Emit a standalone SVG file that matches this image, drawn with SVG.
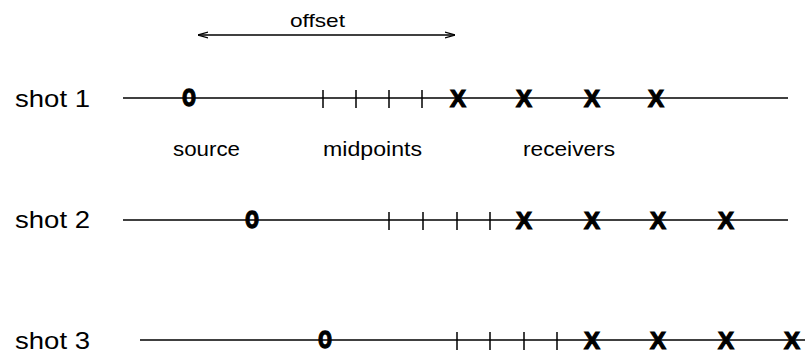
<svg xmlns="http://www.w3.org/2000/svg" width="807" height="357" viewBox="0 0 807 357">
<defs>
<style>
.t{font-family:"Liberation Sans",Arial,sans-serif;fill:#000}
.shot{font-size:24px}
.lab{font-size:20px}
.sym{font-family:"Liberation Sans",Arial,sans-serif;font-weight:bold;font-size:24px;text-anchor:middle;fill:#000;stroke:#000;stroke-width:1.2}
.o{font-size:32px;stroke-width:1.3}
.ln{stroke:#000;stroke-width:1.4;fill:none}
.tk{stroke:#000;stroke-width:1.5}
</style>
<marker id="ah" viewBox="0 0 10 8" refX="10" refY="4" markerWidth="10" markerHeight="8" markerUnits="userSpaceOnUse" orient="auto-start-reverse">
<path d="M0,1 L10,4 L0,7" fill="none" stroke="#000" stroke-width="1.2"/>
</marker>
</defs>
<rect width="807" height="357" fill="#fff"/>
<g id="offset">
<text class="t" x="290" y="27" font-size="19" textLength="55" lengthAdjust="spacingAndGlyphs">offset</text>
</g>
<g id="labels">
<text class="t lab" x="173" y="156" textLength="67" lengthAdjust="spacingAndGlyphs">source</text>
<text class="t lab" x="323" y="156" textLength="99" lengthAdjust="spacingAndGlyphs">midpoints</text>
<text class="t lab" x="523" y="156" textLength="92" lengthAdjust="spacingAndGlyphs">receivers</text>
</g>
<g id="connectors">
<line class="ln" x1="198" y1="35" x2="455" y2="35" marker-start="url(#ah)" marker-end="url(#ah)"/>
<line class="ln" x1="123" y1="98" x2="788" y2="98"/>
<line class="ln" x1="123" y1="220" x2="788" y2="220"/>
<line class="ln" x1="140" y1="340" x2="805" y2="340"/>
</g>
<g id="shot1">
<text class="t shot" x="15" y="107" textLength="75" lengthAdjust="spacingAndGlyphs">shot 1</text>
<text class="sym o" transform="translate(189 106) scale(0.72 1)">o</text>
<line class="tk" x1="323" y1="90" x2="323" y2="108"/>
<line class="tk" x1="356" y1="90" x2="356" y2="108"/>
<line class="tk" x1="389" y1="90" x2="389" y2="108"/>
<line class="tk" x1="422" y1="90" x2="422" y2="108"/>
<text class="sym" x="458" y="107">X</text>
<text class="sym" x="524" y="107">X</text>
<text class="sym" x="592" y="107">X</text>
<text class="sym" x="656" y="107">X</text>
</g>
<g id="shot2">
<text class="t shot" x="15" y="228" textLength="75" lengthAdjust="spacingAndGlyphs">shot 2</text>
<text class="sym o" transform="translate(252 228) scale(0.72 1)">o</text>
<line class="tk" x1="389" y1="212" x2="389" y2="230"/>
<line class="tk" x1="423" y1="212" x2="423" y2="230"/>
<line class="tk" x1="457" y1="212" x2="457" y2="230"/>
<line class="tk" x1="490" y1="212" x2="490" y2="230"/>
<text class="sym" x="524" y="229">X</text>
<text class="sym" x="592" y="229">X</text>
<text class="sym" x="658" y="229">X</text>
<text class="sym" x="726" y="229">X</text>
</g>
<g id="shot3">
<text class="t shot" x="15" y="349" textLength="75" lengthAdjust="spacingAndGlyphs">shot 3</text>
<text class="sym o" transform="translate(325 348) scale(0.72 1)">o</text>
<line class="tk" x1="457" y1="332" x2="457" y2="350"/>
<line class="tk" x1="490" y1="332" x2="490" y2="350"/>
<line class="tk" x1="524" y1="332" x2="524" y2="350"/>
<line class="tk" x1="557" y1="332" x2="557" y2="350"/>
<text class="sym" x="592" y="349">X</text>
<text class="sym" x="658" y="349">X</text>
<text class="sym" x="726" y="349">X</text>
<text class="sym" x="792" y="349">X</text>
</g>
</svg>
